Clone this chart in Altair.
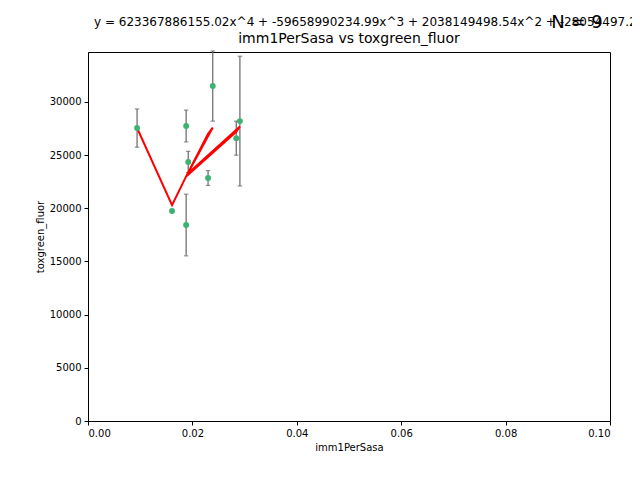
import altair as alt
import pandas as pd

xs = [0.0094, 0.0161, 0.0188, 0.0188, 0.0192, 0.0230, 0.0239, 0.0284, 0.0291]
ys = [27550, 19750, 18430, 27740, 24360, 22850, 31500, 26600, 28200]
errs = [1800, 0, 2900, 1500, 1000, 700, 3300, 1600, 6100]

fit_x = [0.0094, 0.0161, 0.0188, 0.0230, 0.0239, 0.0188, 0.0284, 0.0291, 0.0192]
fit_y = [27550, 20300, 23000, 27000, 27600, 23000, 27200, 27700, 23300]

df = pd.DataFrame({"x": xs, "y": ys, "lo": [y - e for y, e in zip(ys, errs)],
                   "hi": [y + e for y, e in zip(ys, errs)]})
eb = df[df.hi > df.lo]
fit = pd.DataFrame({"x": fit_x, "y": fit_y, "o": list(range(len(fit_x)))})
one = pd.DataFrame({"a": [0]})

xsc = alt.Scale(domain=[0, 0.1], nice=False, padding=0, zero=False)
ysc = alt.Scale(domain=[0, 34700], nice=False, padding=0, zero=False)
xax = alt.Axis(title="imm1PerSasa", values=[0, 0.02, 0.04, 0.06, 0.08, 0.1], format=".2f", grid=False)
yax = alt.Axis(title="toxgreen_fluor", values=list(range(0, 35000, 5000)), format="d", grid=False)

rules = alt.Chart(eb).mark_rule(color="#666666", strokeWidth=1.2).encode(
    x=alt.X("x:Q", scale=xsc, axis=xax), y=alt.Y("lo:Q", scale=ysc, axis=yax), y2="hi:Q")
caps_lo = alt.Chart(eb).mark_point(shape="M-1,0L1,0", color="#666666", size=20, strokeWidth=1.2).encode(
    x=alt.X("x:Q", scale=xsc), y=alt.Y("lo:Q", scale=ysc))
caps_hi = alt.Chart(eb).mark_point(shape="M-1,0L1,0", color="#666666", size=20, strokeWidth=1.2).encode(
    x=alt.X("x:Q", scale=xsc), y=alt.Y("hi:Q", scale=ysc))
line = alt.Chart(fit).mark_line(color="red", strokeWidth=2).encode(
    x=alt.X("x:Q", scale=xsc), y=alt.Y("y:Q", scale=ysc), order="o:Q")
pts = alt.Chart(df).mark_circle(color="#3cb371", opacity=1, size=35).encode(
    x=alt.X("x:Q", scale=xsc), y=alt.Y("y:Q", scale=ysc))
eq = alt.Chart(one).mark_text(align="left", baseline="middle", fontSize=12, font="DejaVu Sans", fontWeight="normal").encode(
    x=alt.value(6), y=alt.value(-30),
    text=alt.value("y = 623367886155.02x^4 + -59658990234.99x^3 + 2038149498.54x^2 + -28054497.27x + 149126.86"))
nlab = alt.Chart(one).mark_text(align="center", baseline="middle", fontSize=18, font="DejaVu Sans", fontWeight="normal").encode(
    x=alt.value(489), y=alt.value(-29), text=alt.value("N = 9"))
ttl = alt.Chart(one).mark_text(align="center", baseline="middle", fontSize=14, font="DejaVu Sans", fontWeight="normal").encode(
    x=alt.value(261), y=alt.value(-13), text=alt.value("imm1PerSasa vs toxgreen_fluor"))

chart = alt.layer(rules, caps_lo, caps_hi, line, pts, eq, nlab, ttl).properties(
    width=522, height=369, autosize="none",
    padding={"left": 80, "top": 44, "right": 22, "bottom": 51}
).configure_view(stroke="black", strokeWidth=1).configure_axis(
    domainColor="black", tickColor="black", labelColor="black", titleColor="black",
    labelFont="DejaVu Sans", titleFont="DejaVu Sans", labelFontSize=10, titleFontSize=10,
    titleFontWeight="normal", tickSize=4, labelPadding=3)

chart.save("out.html", embed_options={"renderer": "svg", "actions": False})
